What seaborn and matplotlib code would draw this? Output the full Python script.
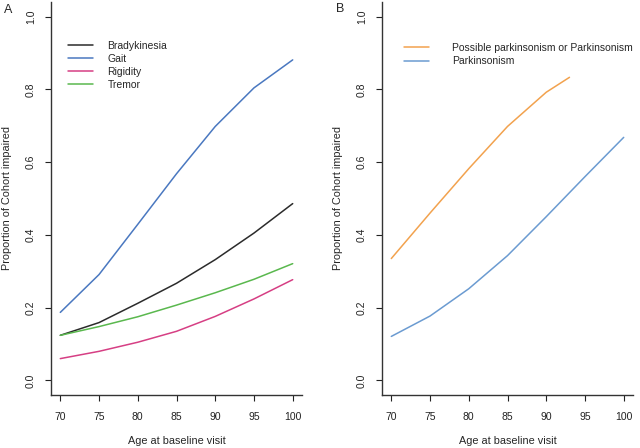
import matplotlib
matplotlib.use("Agg")
import matplotlib.pyplot as plt
import seaborn as sns
import pandas as pd

# Panel A: symptoms by age
ages_a = [70, 75, 80, 85, 90, 95, 100]
bradykinesia = [0.124, 0.159, 0.212, 0.267, 0.332, 0.405, 0.486]
gait = [0.187, 0.291, 0.429, 0.568, 0.698, 0.804, 0.881]
rigidity = [0.060, 0.080, 0.105, 0.135, 0.176, 0.224, 0.277]
tremor = [0.124, 0.148, 0.175, 0.207, 0.241, 0.278, 0.321]

# Panel B: parkinsonism by age
ages_possible = [70, 75, 80, 85, 90, 93]
possible = [0.335, 0.460, 0.582, 0.698, 0.792, 0.833]
ages_park = [70, 75, 80, 85, 90, 95, 100]
parkinsonism = [0.121, 0.177, 0.252, 0.343, 0.450, 0.560, 0.668]

labels_a = ["Bradykinesia", "Gait", "Rigidity", "Tremor"]
colors_a = ["#2b2b2b", "#4a78c0", "#d63f84", "#5ab84e"]
labels_b = ["Possible parkinsonism or Parkinsonism", "Parkinsonism"]
colors_b = ["#f2a24e", "#6b9bd1"]

rows = []
for name, vals in zip(labels_a, [bradykinesia, gait, rigidity, tremor]):
    for a, v in zip(ages_a, vals):
        rows.append({"age": a, "prop": v, "group": name})
df_a = pd.DataFrame(rows)

rows = []
for name, xs, vals in zip(labels_b, [ages_possible, ages_park], [possible, parkinsonism]):
    for a, v in zip(xs, vals):
        rows.append({"age": a, "prop": v, "group": name})
df_b = pd.DataFrame(rows)

sns.set_style("ticks")
plt.rcParams["font.family"] = ["Liberation Sans", "DejaVu Sans"]

fig = plt.figure(figsize=(6.4, 4.48), dpi=100)
ax_a = fig.add_axes([51 / 640, 1 - 395 / 448, 251 / 640, 393 / 448])
ax_b = fig.add_axes([382 / 640, 1 - 395 / 448, 251 / 640, 393 / 448])


def style_axis(ax):
    ax.set_xlim(68.8, 101.2)
    ax.set_ylim(-0.04, 1.04)
    ax.set_xticks([70, 75, 80, 85, 90, 95, 100])
    ax.set_yticks([0.0, 0.2, 0.4, 0.6, 0.8, 1.0])
    ax.set_yticklabels(["0.0", "0.2", "0.4", "0.6", "0.8", "1.0"], rotation=90, va="center")
    ax.tick_params(labelsize=7.5, length=4, width=0.8, colors="#222222")
    ax.tick_params(axis="x", pad=8)
    ax.tick_params(axis="y", pad=7)
    for s in ["top", "right"]:
        ax.spines[s].set_visible(False)
    for s in ["left", "bottom"]:
        ax.spines[s].set_linewidth(1.0)
        ax.spines[s].set_color("#333333")
    ax.set_xlabel("Age at baseline visit", fontsize=7.8, labelpad=10)
    ax.set_ylabel("Proportion of Cohort impaired", fontsize=7.8, labelpad=10)


sns.lineplot(data=df_a, x="age", y="prop", hue="group", hue_order=labels_a,
             palette=colors_a, ax=ax_a, linewidth=1.1)
style_axis(ax_a)
ax_a.legend(loc="upper left", bbox_to_anchor=(0.03, 0.925), frameon=False,
            fontsize=7.5, handlelength=2.4, handletextpad=1.4, labelspacing=0.28)

sns.lineplot(data=df_b, x="age", y="prop", hue="group", hue_order=labels_b,
             palette=colors_b, ax=ax_b, linewidth=1.1)
style_axis(ax_b)
ax_b.legend(loc="upper left", bbox_to_anchor=(0.05, 0.92), frameon=False,
            fontsize=7.5, handlelength=2.4, handletextpad=2.2, labelspacing=0.35)

fig.text(4 / 640, 1 - 10 / 448, "A", fontsize=9, va="center", ha="left")
fig.text(336 / 640, 1 - 9 / 448, "B", fontsize=9, va="center", ha="left")

fig.savefig("out.png", dpi=100)
